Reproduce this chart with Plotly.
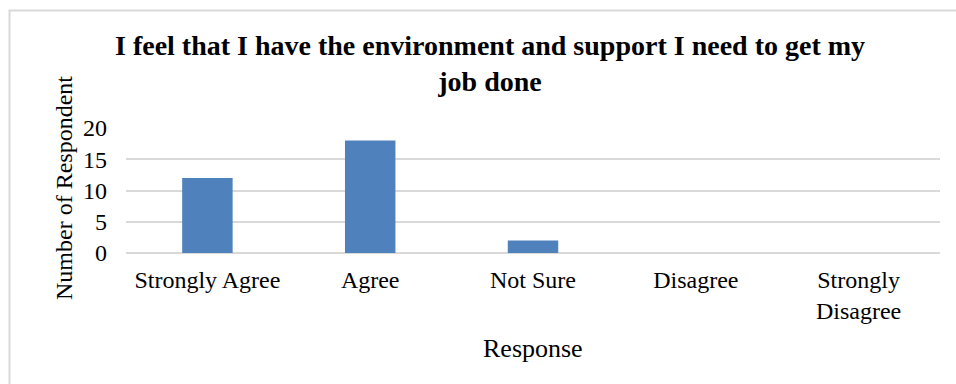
import plotly.graph_objects as go

# Survey responses
categories = ["Strongly Agree", "Agree", "Not Sure", "Disagree", "Strongly<br>Disagree"]
respondents = [12, 18, 2, 0, 0]
y_ticks = [0, 5, 10, 15, 20]

W, H = 956, 384
ML, MR, MT, MB = 126, 16, 128, 131
PW, PH = W - ML - MR, H - MT - MB


def px_x(px):
    return (px - ML) / PW


def px_y(py):
    return (H - MB - py) / PH


FONT = "Liberation Serif, Times New Roman, serif"

fig = go.Figure(
    go.Bar(
        x=categories,
        y=respondents,
        marker=dict(color="#4f81bd", line=dict(width=0)),
        width=0.31,
    )
)

fig.update_layout(
    width=W,
    height=H,
    margin=dict(l=ML, r=MR, t=MT, b=MB),
    paper_bgcolor="white",
    plot_bgcolor="white",
    showlegend=False,
    font=dict(family=FONT, size=24, color="#000000"),
    xaxis=dict(
        showgrid=False,
        showline=False,
        ticks="",
        tickfont=dict(family=FONT, size=24, color="#000000"),
        ticklabelstandoff=10,
    ),
    yaxis=dict(
        range=[0, 20],
        tickvals=y_ticks,
        showgrid=True,
        gridcolor="#d9d9d9",
        gridwidth=2,
        zeroline=True,
        zerolinecolor="#d9d9d9",
        zerolinewidth=2,
        showline=False,
        ticks="",
        tickfont=dict(family=FONT, size=24, color="#000000"),
        ticklabelstandoff=18,
    ),
    annotations=[
        dict(
            text="<b>I feel that I have the environment and support I need to get my<br>job done</b>",
            x=px_x(490), y=px_y(63), xref="paper", yref="paper",
            xanchor="center", yanchor="middle", showarrow=False,
            font=dict(family=FONT, size=28, color="#000000"),
        ),
        dict(
            text="Number of Respondent",
            x=px_x(64), y=px_y(188), xref="paper", yref="paper",
            xanchor="center", yanchor="middle", showarrow=False, textangle=-90,
            font=dict(family=FONT, size=24, color="#000000"),
        ),
        dict(
            text="Response",
            x=px_x(533), y=px_y(348), xref="paper", yref="paper",
            xanchor="center", yanchor="middle", showarrow=False,
            font=dict(family=FONT, size=26, color="#000000"),
        ),
    ],
    shapes=[
        dict(
            type="rect", xref="paper", yref="paper",
            x0=px_x(9.5), x1=px_x(990), y0=px_y(420), y1=px_y(10.5),
            line=dict(color="#d9d9d9", width=2), fillcolor="rgba(0,0,0,0)",
            layer="below",
        )
    ],
)

fig.write_html("out.html")
